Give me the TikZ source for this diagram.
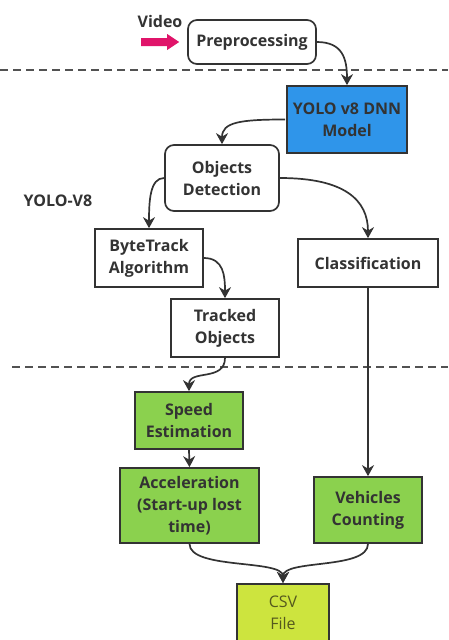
\documentclass[tikz,border=0pt]{standalone}
\usepackage{fontspec}
\setmainfont{Open Sans}
\usetikzlibrary{arrows.meta}
\definecolor{ink}{HTML}{333333}
\definecolor{yblue}{HTML}{2F95EA}
\definecolor{sgreen}{HTML}{8BD14E}
\definecolor{csvc}{HTML}{CDE43E}
\definecolor{csvtext}{HTML}{55591E}
\definecolor{vmag}{HTML}{E0146A}
\tikzset{
  box/.style={draw=ink, line width=1.7pt, align=center, inner sep=0pt, text=ink,
    font=\fontsize{16}{22}\selectfont\bfseries},
  rbox/.style={box, rounded corners=9pt},
  conn/.style={draw=ink, line width=1.7pt, -{Stealth[length=11pt,width=12pt,inset=3.5pt]}},
  sep/.style={draw=ink!85, line width=1.5pt, dash pattern=on 8pt off 5pt},
  lbl/.style={text=ink, inner sep=0pt, font=\fontsize{16}{22}\selectfont\bfseries}
}
\begin{document}
\begin{tikzpicture}[x=1pt,y=1pt]
\clip (0,0) rectangle (448,-640);
\fill[white] (0,0) rectangle (448,-640);
% separators
\draw[sep] (0,-70) -- (448,-70);
\draw[sep] (12,-367) -- (448,-367);
% nodes
\node[rbox, minimum width=128pt, minimum height=44pt] (pre) at (252,-42) {Preprocessing};
\node[box, fill=yblue, minimum width=120pt, minimum height=67pt] (yolo) at (347,-119.5) {YOLO v8 DNN\\Model};
\node[rbox, minimum width=114pt, minimum height=66pt] (det) at (222,-178) {Objects\\Detection};
\node[box, minimum width=108pt, minimum height=58pt] (byte) at (149,-258) {ByteTrack\\Algorithm};
\node[box, minimum width=140pt, minimum height=48pt] (cls) at (368,-263) {Classification};
\node[box, minimum width=108pt, minimum height=58pt] (trk) at (225,-328) {Tracked\\Objects};
\node[box, fill=sgreen, minimum width=108pt, minimum height=57pt] (spd) at (189,-420.5) {Speed\\Estimation};
\node[box, fill=sgreen, minimum width=139pt, minimum height=75pt] (acc) at (189.5,-505.5) {Acceleration\\(Start-up lost\\time)};
\node[box, fill=sgreen, minimum width=108pt, minimum height=66pt] (veh) at (368,-510) {Vehicles\\Counting};
\node[box, fill=csvc, text=csvtext, font=\fontsize{16}{22}\selectfont\mdseries, minimum width=92pt, minimum height=58pt, anchor=north] (csv) at (283,-583) {CSV\\File};
\fill[csvc] ([xshift=0.85pt,yshift=0.85pt]csv.south west) rectangle ([xshift=-0.85pt,yshift=-20pt]csv.south east);
\draw[draw=ink, line width=1.7pt] (csv.south west) -- ++(0,-20pt);
\draw[draw=ink, line width=1.7pt] (csv.south east) -- ++(0,-20pt);
\node[lbl] (video) at (160,-21) {Video};
\node[lbl] (yololbl) at (58,-201) {YOLO-V8};
% magenta input arrow
\coordinate (vin) at ([xshift=-8pt]pre.west);
\fill[vmag] ([xshift=-38pt,yshift=4pt]vin) -- ([xshift=-12pt,yshift=4pt]vin) -- ([xshift=-12pt,yshift=8pt]vin) -- (vin) -- ([xshift=-12pt,yshift=-8pt]vin) -- ([xshift=-12pt,yshift=-4pt]vin) -- ([xshift=-38pt,yshift=-4pt]vin) -- cycle;
% connectors
\draw[conn] (pre.east) .. controls +(26,0) and +(0,26) .. (yolo.north);
\draw[conn] ([xshift=-1pt]yolo.west) .. controls +(-45,0) and +(0,22) .. (det.north);
\draw[conn] (det.west) .. controls +(-14,0) and +(0,28) .. (byte.north);
\draw[conn] (det.east) .. controls +(65,0) and +(0,38) .. (cls.north);
\draw[conn] (byte.east) .. controls +(20,0) and +(0,22) .. (trk.north);
\draw[conn] (trk.south) .. controls +(0,-24) and +(0,22) .. (spd.north);
\draw[conn] (spd.south) -- (acc.north);
\draw[conn] (cls.south) -- (veh.north);
\draw[conn] (acc.south) .. controls +(0,-26) and +(0,24) .. (csv.north);
\draw[conn] (veh.south) .. controls +(0,-26) and +(0,24) .. (csv.north);
\end{tikzpicture}
\end{document}
